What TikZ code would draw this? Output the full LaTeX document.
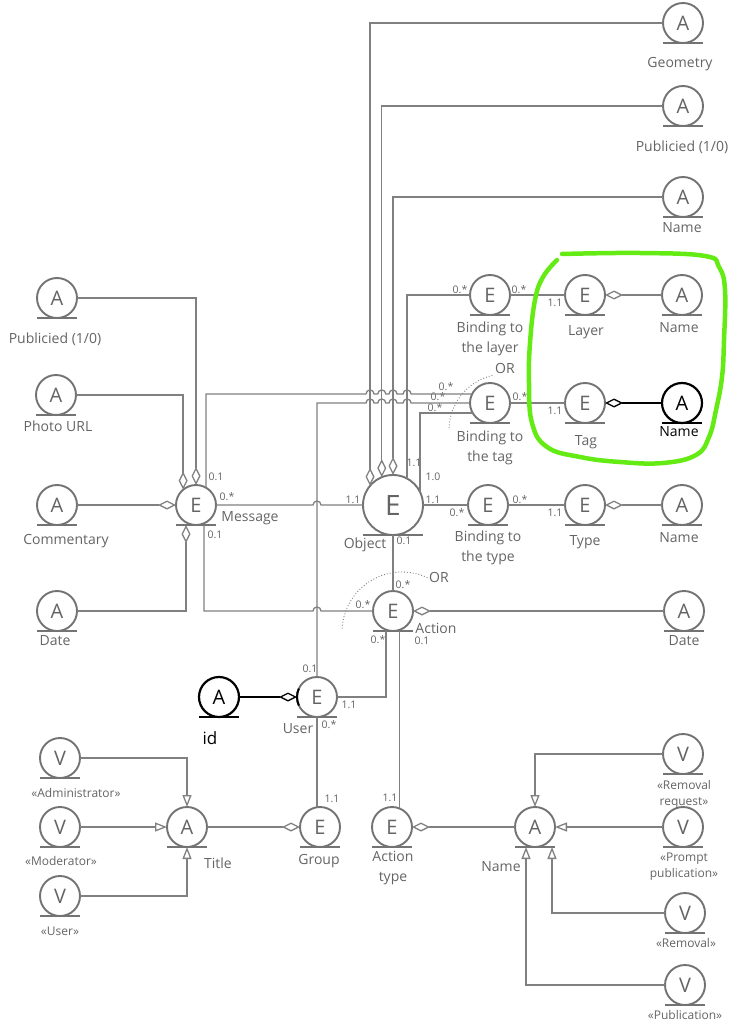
\documentclass[tikz,border=0pt]{standalone}
\usepackage{fontspec}
\setmainfont{Open Sans}
\usetikzlibrary{arrows.meta,calc,positioning}

\definecolor{ln}{RGB}{128,128,128}
\definecolor{circ}{RGB}{115,115,115}
\definecolor{txt}{RGB}{100,100,100}
\definecolor{hilite}{RGB}{100,235,20}

\tikzset{
  ent/.style={circle,draw=circ,line width=1.9pt,minimum size=40pt,inner sep=0pt,
    outer sep=0pt,text=txt,font=\fontsize{20}{20}\selectfont},
  big/.style={minimum size=60pt,font=\fontsize{28}{28}\selectfont},
  blk/.style={draw=black,text=black,line width=2.2pt},
  lbl/.style={text=txt,font=\fontsize{14}{19.5}\selectfont,align=center,inner sep=0pt},
  vlbl/.style={lbl,font=\fontsize{12}{16}\selectfont},
  card/.style={text=txt,font=\fontsize{10.5}{12}\selectfont,inner sep=0pt},
  con/.style={draw=ln,line width=1.3pt},
  bar/.style={draw=circ,line width=2.4pt},
  orarc/.style={draw=ln,line width=0.9pt,dotted},
  dia/.tip={Diamond[open,length=18pt,width=9pt]},
  tri/.tip={Triangle[open,length=12pt,width=9pt]},
  hop/.style={to path={-- ($(\tikztotarget)+(-4,0)$) arc[start angle=180,end angle=0,radius=4]}}
}

\begin{document}
\begin{tikzpicture}[x=1pt,y=1pt]
\useasboundingbox (0,0) rectangle (738,-1030);
% attributes right
\node[ent] (geo) at (683,-23) {A};
\node[ent] (pubr) at (683,-106) {A};
\node[ent] (oname) at (683,-197) {A};
\node[ent] (lname) at (682,-295) {A};
\node[ent,blk] (tname) at (682,-403) {A};
\node[ent] (tyname) at (682,-505) {A};
\node[ent] (adate) at (684,-611) {A};
% bindings
\node[ent] (blayer) at (490,-295) {E};
\node[ent] (btag) at (490,-403) {E};
\node[ent] (btype) at (488,-505) {E};
\node[ent] (layer) at (585,-295) {E};
\node[ent] (tag) at (585,-403) {E};
\node[ent] (type) at (585,-505) {E};
% object, action, message, user
\node[ent,big] (obj) at (393,-505) {E};
\node[ent] (act) at (393,-611) {E};
\node[ent] (msg) at (196,-505) {E};
\node[ent] (user) at (317,-697) {E};
\node[ent,blk] (id) at (219,-697) {A};
% attributes left
\node[ent] (lpub) at (57,-298) {A};
\node[ent] (photo) at (56,-395) {A};
\node[ent] (comm) at (57,-505) {A};
\node[ent] (ldate) at (57,-611) {A};
% titles
\node[ent] (vadm) at (60,-758) {V};
\node[ent] (vmod) at (60,-827) {V};
\node[ent] (vusr) at (60,-896) {V};
\node[ent] (title) at (187,-827) {A};
\node[ent] (group) at (320,-827) {E};
% action types
\node[ent] (atype) at (392,-827) {E};
\node[ent] (vname) at (535,-827) {A};
\node[ent] (vrr) at (683,-754) {V};
\node[ent] (vpp) at (683,-827) {V};
\node[ent] (vrem) at (685,-913) {V};
\node[ent] (vpub) at (685,-985) {V};

\foreach \n in {geo,pubr,oname,lname,tyname,adate,blayer,btag,btype,layer,tag,type,
  obj,act,msg,user,lpub,photo,comm,ldate,vadm,vmod,vusr,title,group,atype,vname,
  vrr,vpp,vrem,vpub}
  \draw[bar] (\n.south -| \n.west) -- (\n.south -| \n.east);
\draw[bar,draw=black] (tname.south -| tname.west) -- (tname.south -| tname.east);
\draw[bar,draw=black] (id.south -| id.west) -- (id.south -| id.east);

% texts
\node[lbl] (geoT) at (680,-64) {Geometry};
\node[lbl] (pubrT) at (682,-147) {Publicied (1/0)};
\node[lbl] (onameT) at (682,-228) {Name};
\node[lbl] (lnameT) at (679,-328) {Name};
\node[lbl,text=black] (tnameT) at (679,-432) {Name};
\node[lbl] (tynameT) at (679,-538) {Name};
\node[lbl] (adateT) at (684,-641) {Date};
\node[lbl] (blayerT) at (490,-339) {Binding to\\the layer};
\node[lbl] (btagT) at (490,-448) {Binding to\\the tag};
\node[lbl] (btypeT) at (488,-548) {Binding to\\the type};
\node[lbl] (layerT) at (586,-332) {Layer};
\node[lbl] (tagT) at (586,-442) {Tag};
\node[lbl] (typeT) at (585,-542) {Type};
\node[lbl] (objT) at (365,-545) {Object};
\node[lbl] (actT) at (436,-628) {Action};
\node[lbl] (msgT) at (250,-518) {Message};
\node[lbl] (userT) at (298,-729) {User};
\node[lbl,text=black,font=\fontsize{17}{17}\selectfont] (idT) at (210,-738) {id};
\node[lbl] (lpubT) at (55,-339) {Publicied (1/0)};
\node[lbl] (photoT) at (58,-426) {Photo URL};
\node[lbl] (commT) at (66,-541) {Commentary};
\node[lbl] (ldateT) at (55,-641) {Date};
\node[vlbl] (vadmT) at (76,-793) {«Administrator»};
\node[vlbl] (vmodT) at (61,-861) {«Moderator»};
\node[vlbl] (vusrT) at (60,-931) {«User»};
\node[lbl] (titleT) at (218,-863) {Title};
\node[lbl] (groupT) at (319,-861) {Group};
\node[lbl] (atypeT) at (393,-868) {Action\\type};
\node[lbl] (vnameT) at (501,-867) {Name};
\node[vlbl] (vrrT) at (684,-794) {«Removal\\request»};
\node[vlbl] (vppT) at (684,-867) {«Prompt\\publication»};
\node[vlbl] (vremT) at (686,-943) {«Removal»};
\node[vlbl] (vpubT) at (685,-1015) {«Publication»};
\node[lbl] (or1) at (505,-368) {OR};
\node[lbl] (or2) at (439,-577) {OR};

% cardinalities
\node[card] (k1) at (216,-477) {0.1};
\node[card] (k2) at (227,-497) {0.*};
\node[card] (k3) at (215,-535) {0.1};
\node[card] (k4) at (353,-500) {1.1};
\node[card] (k5) at (414,-463) {1.1};
\node[card] (k6) at (433,-477) {1.0};
\node[card] (k7) at (433,-500) {1.1};
\node[card] (k8) at (404,-541) {0.1};
\node[card] (k9) at (457,-513) {0.*};
\node[card] (k10) at (520,-500) {0.*};
\node[card] (k11) at (555,-513) {1.1};
\node[card] (k12) at (460,-290) {0.*};
\node[card] (k13) at (519,-290) {0.*};
\node[card] (k14) at (555,-303) {1.1};
\node[card] (k15) at (446,-387) {0.*};
\node[card] (k16) at (438,-397) {0.*};
\node[card] (k17) at (435,-408) {0.*};
\node[card] (k18) at (520,-397) {0.*};
\node[card] (k19) at (555,-411) {1.1};
\node[card] (k20) at (403,-585) {0.*};
\node[card] (k21) at (363,-605) {0.*};
\node[card] (k22) at (378,-640) {0.*};
\node[card] (k23) at (422,-641) {0.1};
\node[card] (k24) at (310,-669) {0.1};
\node[card] (k25) at (349,-705) {1.1};
\node[card] (k26) at (329,-725) {0.*};
\node[card] (k27) at (332,-799) {1.1};
\node[card] (k28) at (390,-798) {1.1};

% object links
\draw[con,-dia] (geo.west) -| (obj.140);
\draw[con,-dia] (pubr.west) -| (obj.112);
\draw[con,-dia] (oname.west) -| (obj.90);
\draw[con] (blayer.west) -| (obj.62);
\draw[con] (btag.210) -| (obj.26);
\draw[con] (obj.east) -- (btype.west);
\draw[con] (obj.south) -- (act.north);
\draw[con] (blayer.east) -- (layer.west);
\draw[con] (btag.east) -- (tag.west);
\draw[con] (btype.east) -- (type.west);
\draw[con,dia-] (layer.east) -- (lname.west);
\draw[con,draw=black,dia-] (tag.east) -- (tname.west);
\draw[con,dia-] (type.east) -- (tyname.west);
% message links
\draw[con,-dia] (lpub.east) -| (msg.north);
\draw[con,-dia] (photo.east) -| (msg.130);
\draw[con,-dia] (comm.east) -- (msg.west);
\draw[con,-dia] (ldate.east) -| ([xshift=-10pt]msg.south);
\draw[con] (msg.60) -- (msg.60 |- btag.153) to[hop] (obj.140 |- btag.153)
  to[hop] (obj.112 |- btag.153) to[hop] (obj.90 |- btag.153)
  to[hop] (obj.62 |- btag.153) -- (btag.153);
\draw[con] (user.north) -- (user.north |- btag.west) to[hop] (obj.140 |- btag.west)
  to[hop] (obj.112 |- btag.west) to[hop] (obj.90 |- btag.west)
  to[hop] (obj.62 |- btag.west) -- (btag.west);
\draw[con] (msg.east) to[hop] (user.north |- msg.east) -- (obj.west);
\coordinate (msgb) at ([xshift=8pt]msg.south);
\draw[con] (msgb) -- (msgb |- act.west) to[hop] (user.north |- act.west) -- (act.west);
% action links
\draw[con,dia-] (act.east) -- (adate.west);
\draw[con] (user.east) -| ([xshift=-7pt]act.south);
\draw[con] (atype.68 |- act.south) -- (atype.68);
\draw[con] (user.south) -- (user.south |- group.north);
\draw[con,draw=black,-dia] (id.east) -- (user.west);
\draw[black,line width=2pt] (user.155) arc[start angle=155,end angle=205,radius=20];
% title links
\draw[con,-tri] (vadm.east) -| (title.north);
\draw[con,-tri] (vmod.east) -- (title.west);
\draw[con,-tri] (vusr.east) -| (title.south);
\draw[con,-dia] (title.east) -- (group.west);
% name links
\draw[con,dia-] (atype.east) -- (vname.west);
\draw[con,-tri] (vrr.west) -| (vname.north);
\draw[con,-tri] (vpp.west) -- (vname.east);
\draw[con,-tri] (vrem.west) -| ([xshift=17pt]vname.south);
\draw[con,-tri] (vpub.west) -| ([xshift=-9pt]vname.south);
% OR arcs
\draw[orarc] ([shift={(15,-27)}]btag.center) ++(103:56) arc[start angle=103,end angle=180,radius=56];
\draw[orarc] ([shift={(9,-21)}]act.center) ++(65:60) arc[start angle=65,end angle=178,radius=60];
% marking
\draw[hilite,line width=4.5pt,line cap=round] plot[smooth,tension=0.7] coordinates {
  (562,-254) (640,-253) (705,-256) (719,-267) (725,-290) (724,-340) (722,-377)
  (716,-410) (709,-437) (696,-455) (663,-463) (620,-462) (580,-457) (547,-447)
  (532,-423) (529,-383) (530,-343) (535,-300) (543,-277) (557,-260)};
\end{tikzpicture}
\end{document}
